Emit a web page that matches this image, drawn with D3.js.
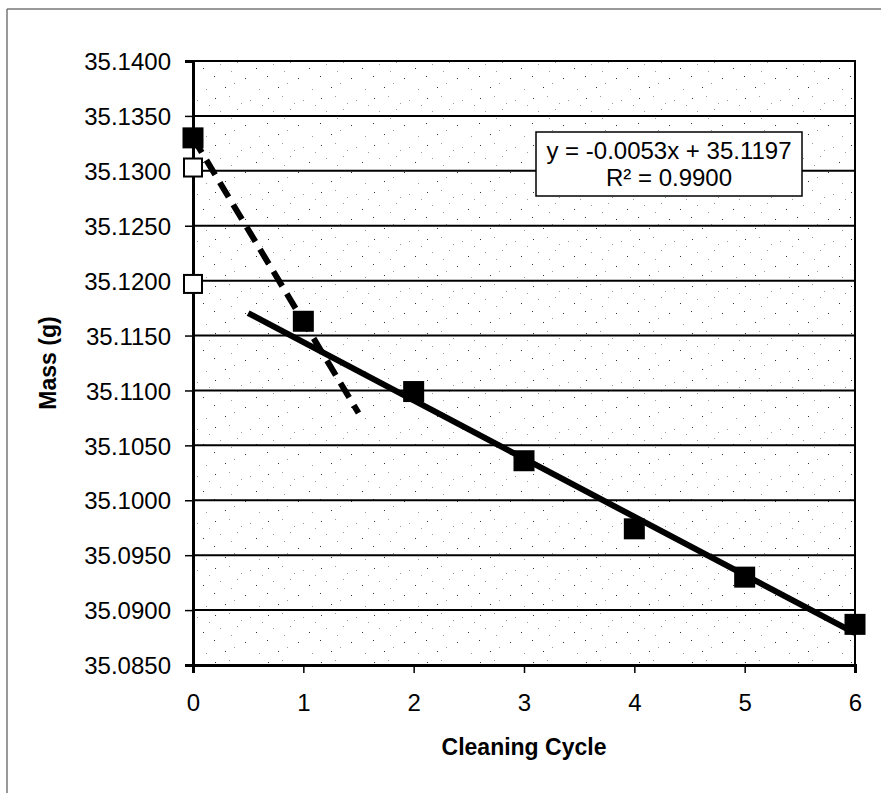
<!DOCTYPE html>
<html>
<head>
<meta charset="utf-8">
<script src="https://cdn.jsdelivr.net/npm/d3@7/dist/d3.min.js"></script>
<style>
  html, body { margin: 0; padding: 0; background: #fff; }
  svg { display: block; font-family: "Liberation Sans", Arial, sans-serif; }
</style>
</head>
<body>
<svg id="chart" width="881" height="793"></svg>
<script>
// Mass measured after each cleaning cycle
const cycles = [0, 1, 2, 3, 4, 5, 6];
const massMeasured = [35.1330, 35.1163, 35.1099, 35.1036, 35.0974, 35.0930, 35.0887];
// Open markers on the y-axis (cycle 0)
const openCycles = [0, 0];
const openMass = [35.1303, 35.1197];
// Linear fit reported for cycles 1–6
const fitSlope = -0.0053;
const fitIntercept = 35.1197;
const fitR2 = 0.9900;
const fitRange = [0.5, 6];
// Initial drop: line through cycles 0 and 1, extended to 1.5
const initialRange = [0, 1.5];
const yTicks = [35.0850, 35.0900, 35.0950, 35.1000, 35.1050, 35.1100, 35.1150, 35.1200, 35.1250, 35.1300, 35.1350, 35.1400];
const xTicks = [0, 1, 2, 3, 4, 5, 6];

const svg = d3.select("#chart");
const W = 881, H = 793;
const m = { left: 193, right: 26, top: 61, bottom: 128 };
const pw = W - m.left - m.right, ph = H - m.top - m.bottom;

const x = d3.scaleLinear().domain([0, 6]).range([m.left, m.left + pw]);
const y = d3.scaleLinear().domain([35.085, 35.14]).range([m.top + ph, m.top]);

// outer chart frame (top and left edges visible)
svg.append("line").attr("x1", 7).attr("x2", W).attr("y1", 9).attr("y2", 9)
  .attr("stroke", "#777").attr("stroke-width", 1.5);
svg.append("line").attr("x1", 7).attr("x2", 7).attr("y1", 9).attr("y2", H)
  .attr("stroke", "#777").attr("stroke-width", 1.5);

// stippled plot-area fill
const defs = svg.append("defs");
const pat = defs.append("pattern").attr("id", "stipple").attr("patternUnits", "userSpaceOnUse")
  .attr("width", 53).attr("height", 47);
const dots = [[3,4],[17,2],[29,9],[44,21],[8,17],[22,36],[13,40],[47,42],[25,15],[2,29],[38,6],[19,24],[33,31],[50,11]];
dots.forEach(([dx, dy], i) => {
  pat.append("rect").attr("x", dx).attr("y", dy).attr("width", 1).attr("height", 1)
    .attr("fill", i % 3 === 0 ? "#333" : "#999");
});
svg.append("rect").attr("x", m.left).attr("y", m.top).attr("width", pw).attr("height", ph)
  .attr("fill", "url(#stipple)");

// horizontal gridlines
svg.append("g").selectAll("line").data(yTicks).join("line")
  .attr("x1", m.left).attr("x2", m.left + pw)
  .attr("y1", d => y(d)).attr("y2", d => y(d))
  .attr("stroke", "#000").attr("stroke-width", 2);

// plot border (right and top)
svg.append("rect").attr("x", m.left).attr("y", m.top).attr("width", pw).attr("height", ph)
  .attr("fill", "none").attr("stroke", "#000").attr("stroke-width", 2);

// axes
const yAxis = svg.append("g").attr("transform", `translate(${m.left},0)`)
  .call(d3.axisLeft(y).tickValues(yTicks).tickFormat(d3.format(".4f")).tickSize(8).tickPadding(14));
const xAxis = svg.append("g").attr("transform", `translate(0,${m.top + ph})`)
  .call(d3.axisBottom(x).tickValues(xTicks).tickFormat(d3.format("d")).tickSize(8).tickPadding(21));
[yAxis, xAxis].forEach(g => {
  g.select(".domain").attr("stroke", "#000").attr("stroke-width", 3);
  g.selectAll(".tick line").attr("stroke", "#000").attr("stroke-width", 1.5);
  g.selectAll(".tick text").attr("fill", "#000").attr("font-size", 24)
    .attr("font-family", "'Liberation Sans', Arial, sans-serif");
});
yAxis.selectAll(".tick text").attr("dy", "0.36em");

// axis titles
svg.append("text").attr("x", m.left + pw / 2).attr("y", 755)
  .attr("text-anchor", "middle").attr("font-size", 23).attr("font-weight", "bold")
  .text("Cleaning Cycle");
svg.append("text").attr("transform", `translate(56,${m.top + ph / 2}) rotate(-90)`)
  .attr("text-anchor", "middle").attr("font-size", 23).attr("font-weight", "bold")
  .text("Mass (g)");

// trend lines
const line = d3.line().x(d => x(d[0])).y(d => y(d[1]));
const s0 = (massMeasured[1] - massMeasured[0]) / (cycles[1] - cycles[0]);
const initialLine = initialRange.map(c => [c, massMeasured[0] + s0 * (c - cycles[0])]);
svg.append("path").datum(initialLine).attr("d", line)
  .attr("fill", "none").attr("stroke", "#000").attr("stroke-width", 6)
  .attr("stroke-dasharray", "17,9");
const fitLine = fitRange.map(c => [c, fitIntercept + fitSlope * c]);
svg.append("path").datum(fitLine).attr("d", line)
  .attr("fill", "none").attr("stroke", "#000").attr("stroke-width", 6);

// markers
const sq = 21;
svg.append("g").selectAll("rect").data(cycles.map((c, i) => [c, massMeasured[i]])).join("rect")
  .attr("x", d => x(d[0]) - sq / 2).attr("y", d => y(d[1]) - sq / 2)
  .attr("width", sq).attr("height", sq).attr("fill", "#000");
const osq = 18;
svg.append("g").selectAll("rect").data(openCycles.map((c, i) => [c, openMass[i]])).join("rect")
  .attr("x", d => x(d[0]) - osq / 2).attr("y", d => y(d[1]) - osq / 2)
  .attr("width", osq).attr("height", osq).attr("fill", "#fff")
  .attr("stroke", "#000").attr("stroke-width", 2);

// fit equation label
const bx = 536, by = 132, bw = 266, bh = 64;
svg.append("rect").attr("x", bx).attr("y", by).attr("width", bw).attr("height", bh)
  .attr("fill", "#fff").attr("stroke", "#000").attr("stroke-width", 1.5);
const fmt4 = v => d3.format(".4f")(v).replace("\u2212", "-");
svg.append("text").attr("x", bx + bw / 2).attr("y", by + 27).attr("text-anchor", "middle")
  .attr("font-size", 24)
  .text(`y = ${fmt4(fitSlope)}x + ${fmt4(fitIntercept)}`);
svg.append("text").attr("x", bx + bw / 2).attr("y", by + 54).attr("text-anchor", "middle")
  .attr("font-size", 24)
  .text(`R² = ${fmt4(fitR2)}`);
</script>
</body>
</html>
